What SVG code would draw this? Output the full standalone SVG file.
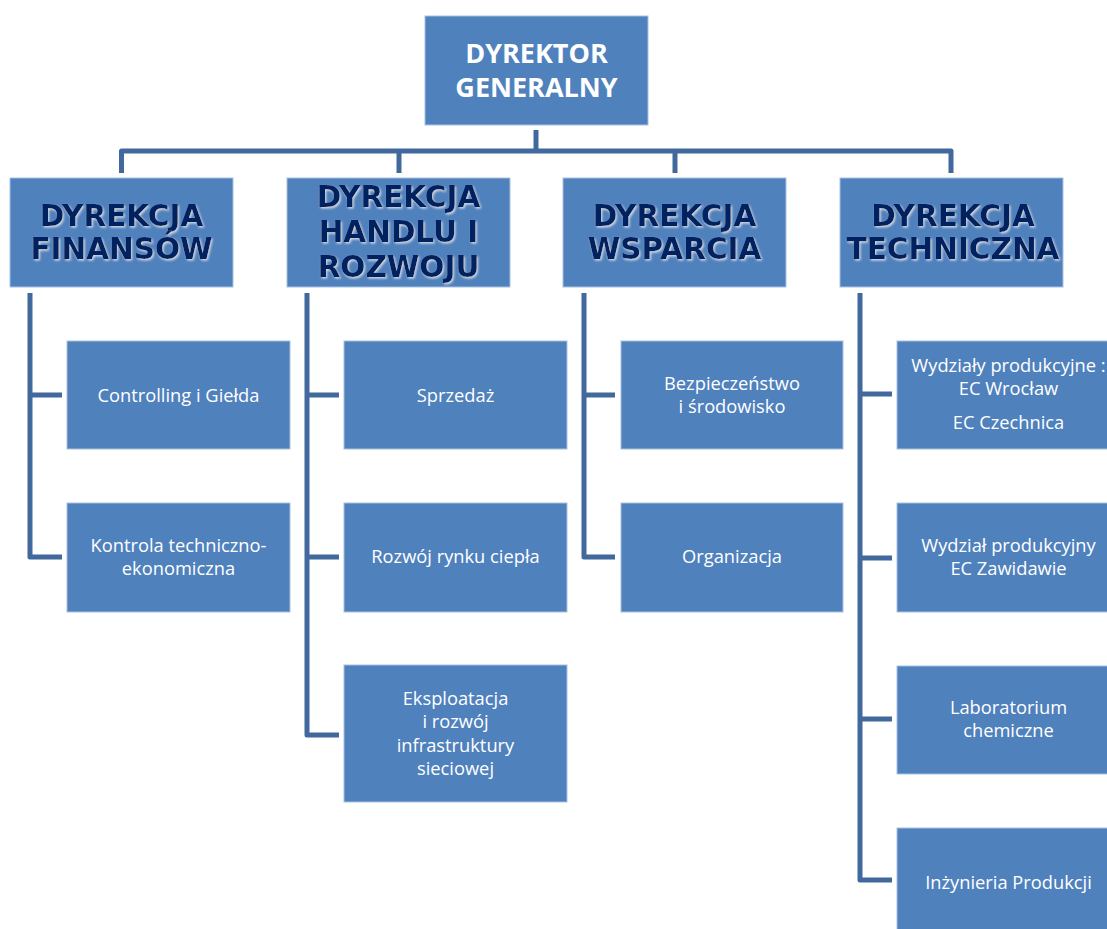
<svg xmlns="http://www.w3.org/2000/svg" width="1107" height="929" viewBox="0 0 1107 929">
<defs>
<filter id="sh" x="-10%" y="-20%" width="120%" height="140%">
<feDropShadow dx="1.2" dy="1.5" stdDeviation="1" flood-color="#D9DCE2" flood-opacity="1"/>
</filter>
</defs>
<style>
.box{fill:#4F81BD;stroke:#A9C0E0;stroke-width:1}
.top{font-family:"Open Sans","Noto Sans",sans-serif;font-weight:bold;font-size:27px;fill:#FFFFFF;text-anchor:middle}
.dir{font-family:"DejaVu Sans","Verdana",sans-serif;font-weight:bold;font-size:29.5px;fill:#002060;text-anchor:middle;filter:url(#sh)}
.ch{font-family:"Open Sans","Noto Sans",sans-serif;font-size:18.3px;fill:#FFFFFF;text-anchor:middle}
.con{fill:none;stroke:#41699D;stroke-width:5;stroke-linejoin:round}
</style>
<rect width="1107" height="929" fill="#FFFFFF"/>
<g id="connectors">
<path class="con" d="M536,130 V151"/>
<path class="con" d="M121.5,173 V151 H951 V173"/>
<path class="con" d="M399,151 V173"/>
<path class="con" d="M675,151 V173"/>
<path class="con" d="M30,293 V557 H62 M30,395 H62"/>
<path class="con" d="M307,293 V735 H339 M307,395 H339 M307,557 H339"/>
<path class="con" d="M584,293 V557 H615 M584,395 H615"/>
<path class="con" d="M860,293 V880 H892 M860,394 H892 M860,558 H892 M860,719 H892"/>
</g>
<g id="dyrektor-generalny">
<rect class="box" x="425" y="16" width="223" height="109"/>
<text class="top" x="536.5" y="63">DYREKTOR</text>
<text class="top" x="536.5" y="97">GENERALNY</text>
</g>
<g id="dyrekcja-finansow">
<rect class="box" x="10" y="178" width="223" height="109"/>
<text class="dir" x="121.5" y="226">DYREKCJA</text>
<text class="dir" x="121.5" y="259">FINANSÓW</text>
</g>
<g id="dyrekcja-handlu">
<rect class="box" x="287" y="178" width="223" height="109"/>
<text class="dir" x="398.5" y="207">DYREKCJA</text>
<text class="dir" x="398.5" y="242">HANDLU I</text>
<text class="dir" x="398.5" y="277">ROZWOJU</text>
</g>
<g id="dyrekcja-wsparcia">
<rect class="box" x="563" y="178" width="223" height="109"/>
<text class="dir" x="674.5" y="226">DYREKCJA</text>
<text class="dir" x="674.5" y="259">WSPARCIA</text>
</g>
<g id="dyrekcja-techniczna">
<rect class="box" x="840" y="178" width="223" height="109"/>
<text class="dir" x="953" y="226">DYREKCJA</text>
<text class="dir" x="953" y="259">TECHNICZNA</text>
</g>
<g id="controlling">
<rect class="box" x="67" y="341" width="223" height="108"/>
<text class="ch" x="178.5" y="402">Controlling i Giełda</text>
</g>
<g id="kontrola">
<rect class="box" x="67" y="503" width="223" height="109"/>
<text class="ch" x="178.5" y="552">Kontrola techniczno-</text>
<text class="ch" x="178.5" y="575">ekonomiczna</text>
</g>
<g id="sprzedaz">
<rect class="box" x="344" y="341" width="223" height="108"/>
<text class="ch" x="455.5" y="402">Sprzedaż</text>
</g>
<g id="rozwoj-rynku">
<rect class="box" x="344" y="503" width="223" height="109"/>
<text class="ch" x="455.5" y="563">Rozwój rynku ciepła</text>
</g>
<g id="eksploatacja">
<rect class="box" x="344" y="665" width="223" height="137"/>
<text class="ch" x="455.5" y="705">Eksploatacja</text>
<text class="ch" x="455.5" y="728">i rozwój</text>
<text class="ch" x="455.5" y="752">infrastruktury</text>
<text class="ch" x="455.5" y="775">sieciowej</text>
</g>
<g id="bezpieczenstwo">
<rect class="box" x="621" y="341" width="222" height="108"/>
<text class="ch" x="732" y="390">Bezpieczeństwo</text>
<text class="ch" x="732" y="413">i środowisko</text>
</g>
<g id="organizacja">
<rect class="box" x="621" y="503" width="222" height="109"/>
<text class="ch" x="732" y="563">Organizacja</text>
</g>
<g id="wydzialy">
<rect class="box" x="897" y="341" width="223" height="108"/>
<text class="ch" x="1008.5" y="372">Wydziały produkcyjne :</text>
<text class="ch" x="1008.5" y="395">EC Wrocław</text>
<text class="ch" x="1008.5" y="429">EC Czechnica</text>
</g>
<g id="wydzial-zawidawie">
<rect class="box" x="897" y="503" width="223" height="109"/>
<text class="ch" x="1008.5" y="552">Wydział produkcyjny</text>
<text class="ch" x="1008.5" y="575">EC Zawidawie</text>
</g>
<g id="laboratorium">
<rect class="box" x="897" y="666" width="223" height="108"/>
<text class="ch" x="1008.5" y="714">Laboratorium</text>
<text class="ch" x="1008.5" y="737">chemiczne</text>
</g>
<g id="inzynieria">
<rect class="box" x="897" y="828" width="223" height="108"/>
<text class="ch" x="1008.5" y="889">Inżynieria Produkcji</text>
</g>
</svg>
